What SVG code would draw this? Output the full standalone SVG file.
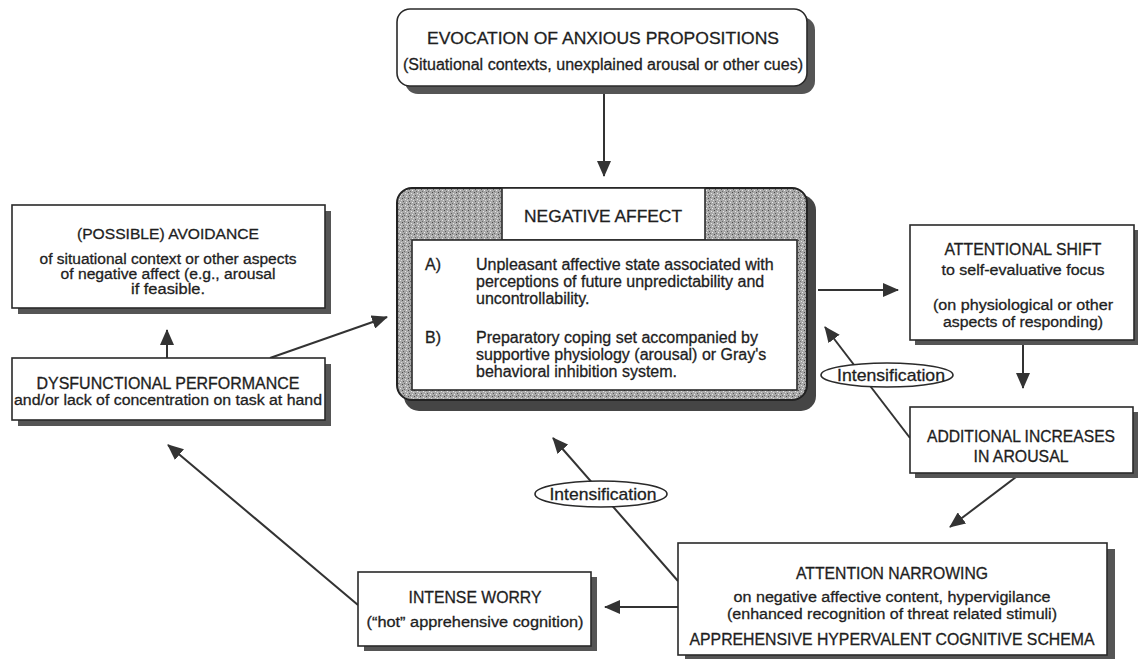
<svg xmlns="http://www.w3.org/2000/svg" width="1138" height="659" viewBox="0 0 1138 659">
<style>
  text { font-family: "Liberation Sans", Arial, Helvetica, sans-serif; fill: #1e1e1e; stroke: #1e1e1e; stroke-width: 0.3; }
  .t15 { font-size: 15.5px; }
  .t16 { font-size: 16px; }
  .t17 { font-size: 17px; }
  .mid { text-anchor: middle; }
  .box { fill: #fff; stroke: #2a2a2a; stroke-width: 1.6; }
  .shadow { fill: #555; }
  .conn { stroke: #333; stroke-width: 2; fill: none; marker-end: url(#ah); }
  .lbl { fill: #fff; stroke: #2a2a2a; stroke-width: 1.6; }
</style>
<defs>
  <marker id="ah" markerWidth="16" markerHeight="14" refX="15" refY="7" orient="auto" markerUnits="userSpaceOnUse">
    <path d="M0,0 L16,7 L0,14 z" fill="#333"/>
  </marker>
  <pattern id="stip" width="6" height="6" patternUnits="userSpaceOnUse">
    <rect width="6" height="6" fill="#a8a8a8"/>
    <rect x="0" y="0" width="1" height="1" fill="#4a4a4a"/>
    <rect x="3" y="1" width="1" height="1" fill="#e6e6e6"/>
    <rect x="1" y="3" width="1" height="1" fill="#5a5a5a"/>
    <rect x="4" y="4" width="1" height="1" fill="#ececec"/>
    <rect x="2" y="5" width="1" height="1" fill="#6a6a6a"/>
    <rect x="5" y="2" width="1" height="1" fill="#d8d8d8"/>
  </pattern>
</defs>
<rect width="1138" height="659" fill="#fff"/>

<g id="connectors">
  <line class="conn" x1="604" y1="86" x2="604" y2="176"/>
  <line class="conn" x1="818" y1="290" x2="898" y2="290"/>
  <line class="conn" x1="1023" y1="341" x2="1023" y2="388"/>
  <line class="conn" x1="910" y1="438" x2="825" y2="327"/>
  <line class="conn" x1="1020" y1="474" x2="950" y2="527"/>
  <line class="conn" x1="678" y1="607" x2="605" y2="607"/>
  <line class="conn" x1="678" y1="581" x2="553" y2="438"/>
  <line class="conn" x1="358" y1="605" x2="168" y2="445"/>
  <line class="conn" x1="167" y1="358" x2="167" y2="330"/>
  <line class="conn" x1="270" y1="358" x2="387" y2="317"/>
  <g id="label-intensification-right">
    <ellipse class="lbl" cx="887" cy="375" rx="66" ry="12"/>
    <text class="t17 mid" x="891" y="381" textLength="108" lengthAdjust="spacingAndGlyphs">Intensification</text>
  </g>
  <g id="label-intensification-bottom">
    <ellipse class="lbl" cx="601" cy="494" rx="66" ry="13"/>
    <text class="t17 mid" x="603" y="500" textLength="107" lengthAdjust="spacingAndGlyphs">Intensification</text>
  </g>
</g>

<g id="evocation">
  <rect x="405" y="17" width="410" height="77" rx="13" class="shadow"/>
  <rect x="397" y="9" width="410" height="77" rx="13" class="box" stroke-width="2"/>
  <text class="t17 mid" x="603" y="44" textLength="352" lengthAdjust="spacingAndGlyphs">EVOCATION OF ANXIOUS PROPOSITIONS</text>
  <text class="t16 mid" x="603" y="70" textLength="400" lengthAdjust="spacingAndGlyphs">(Situational contexts, unexplained arousal or other cues)</text>
</g>

<g id="negative-affect">
  <rect x="404" y="195" width="412" height="216" rx="15" fill="#454545"/>
  <rect x="397" y="188" width="410" height="212" rx="15" fill="url(#stip)" stroke="#222" stroke-width="2"/>
  <rect x="502" y="188" width="203" height="52" class="box"/>
  <rect x="412" y="240" width="385" height="150" class="box"/>
  <text class="t17 mid" x="603" y="222" textLength="158" lengthAdjust="spacingAndGlyphs">NEGATIVE AFFECT</text>
  <text class="t16" x="425" y="270">A)</text>
  <text class="t16" x="476" y="270">Unpleasant affective state associated with</text>
  <text class="t16" x="476" y="287">perceptions of future unpredictability and</text>
  <text class="t16" x="476" y="304">uncontrollability.</text>
  <text class="t16" x="425" y="343">B)</text>
  <text class="t16" x="476" y="343">Preparatory coping set accompanied by</text>
  <text class="t16" x="476" y="360">supportive physiology (arousal) or Gray's</text>
  <text class="t16" x="476" y="377">behavioral inhibition system.</text>
</g>

<g id="avoidance">
  <rect x="18" y="211" width="313" height="103" class="shadow"/>
  <rect x="12" y="205" width="313" height="103" class="box"/>
  <text class="t15 mid" x="168" y="239" textLength="182" lengthAdjust="spacingAndGlyphs">(POSSIBLE) AVOIDANCE</text>
  <text class="t15 mid" x="168" y="264" textLength="257" lengthAdjust="spacingAndGlyphs">of situational context or other aspects</text>
  <text class="t15 mid" x="168" y="279" textLength="215" lengthAdjust="spacingAndGlyphs">of negative affect (e.g., arousal</text>
  <text class="t15 mid" x="168" y="294" textLength="74" lengthAdjust="spacingAndGlyphs">if feasible.</text>
</g>

<g id="dysfunctional">
  <rect x="18" y="364" width="313" height="62" class="shadow"/>
  <rect x="12" y="358" width="313" height="62" class="box"/>
  <text class="t16 mid" x="168" y="389" textLength="263" lengthAdjust="spacingAndGlyphs">DYSFUNCTIONAL PERFORMANCE</text>
  <text class="t15 mid" x="168" y="405" textLength="308" lengthAdjust="spacingAndGlyphs">and/or lack of concentration on task at hand</text>
</g>

<g id="attentional-shift">
  <rect x="915" y="230" width="223" height="115" class="shadow"/>
  <rect x="910" y="225" width="224" height="115" class="box"/>
  <text class="t16 mid" x="1023" y="255" textLength="157" lengthAdjust="spacingAndGlyphs">ATTENTIONAL SHIFT</text>
  <text class="t15 mid" x="1023" y="275" textLength="163" lengthAdjust="spacingAndGlyphs">to self-evaluative focus</text>
  <text class="t15 mid" x="1023" y="310" textLength="180" lengthAdjust="spacingAndGlyphs">(on physiological or other</text>
  <text class="t15 mid" x="1023" y="327" textLength="160" lengthAdjust="spacingAndGlyphs">aspects of responding)</text>
</g>

<g id="additional-arousal">
  <rect x="915" y="412" width="223" height="66" class="shadow"/>
  <rect x="910" y="407" width="223" height="66" class="box"/>
  <text class="t16 mid" x="1021" y="442" textLength="188" lengthAdjust="spacingAndGlyphs">ADDITIONAL INCREASES</text>
  <text class="t16 mid" x="1021" y="462" textLength="95" lengthAdjust="spacingAndGlyphs">IN AROUSAL</text>
</g>

<g id="attention-narrowing">
  <rect x="685" y="549" width="430" height="115" class="shadow"/>
  <rect x="678" y="543" width="429" height="112" class="box"/>
  <text class="t16 mid" x="892" y="579" textLength="192" lengthAdjust="spacingAndGlyphs">ATTENTION NARROWING</text>
  <text class="t15 mid" x="892" y="602" textLength="317" lengthAdjust="spacingAndGlyphs">on negative affective content, hypervigilance</text>
  <text class="t15 mid" x="892" y="619" textLength="330" lengthAdjust="spacingAndGlyphs">(enhanced recognition of threat related stimuli)</text>
  <text class="t16 mid" x="892" y="645" textLength="405" lengthAdjust="spacingAndGlyphs">APPREHENSIVE HYPERVALENT COGNITIVE SCHEMA</text>
</g>

<g id="intense-worry">
  <rect x="364" y="577" width="233" height="74" class="shadow"/>
  <rect x="358" y="572" width="233" height="74" class="box"/>
  <text class="t16 mid" x="475" y="603" textLength="133" lengthAdjust="spacingAndGlyphs">INTENSE WORRY</text>
  <text class="t15 mid" x="475" y="627" textLength="217" lengthAdjust="spacingAndGlyphs">(“hot” apprehensive cognition)</text>
</g>
</svg>
